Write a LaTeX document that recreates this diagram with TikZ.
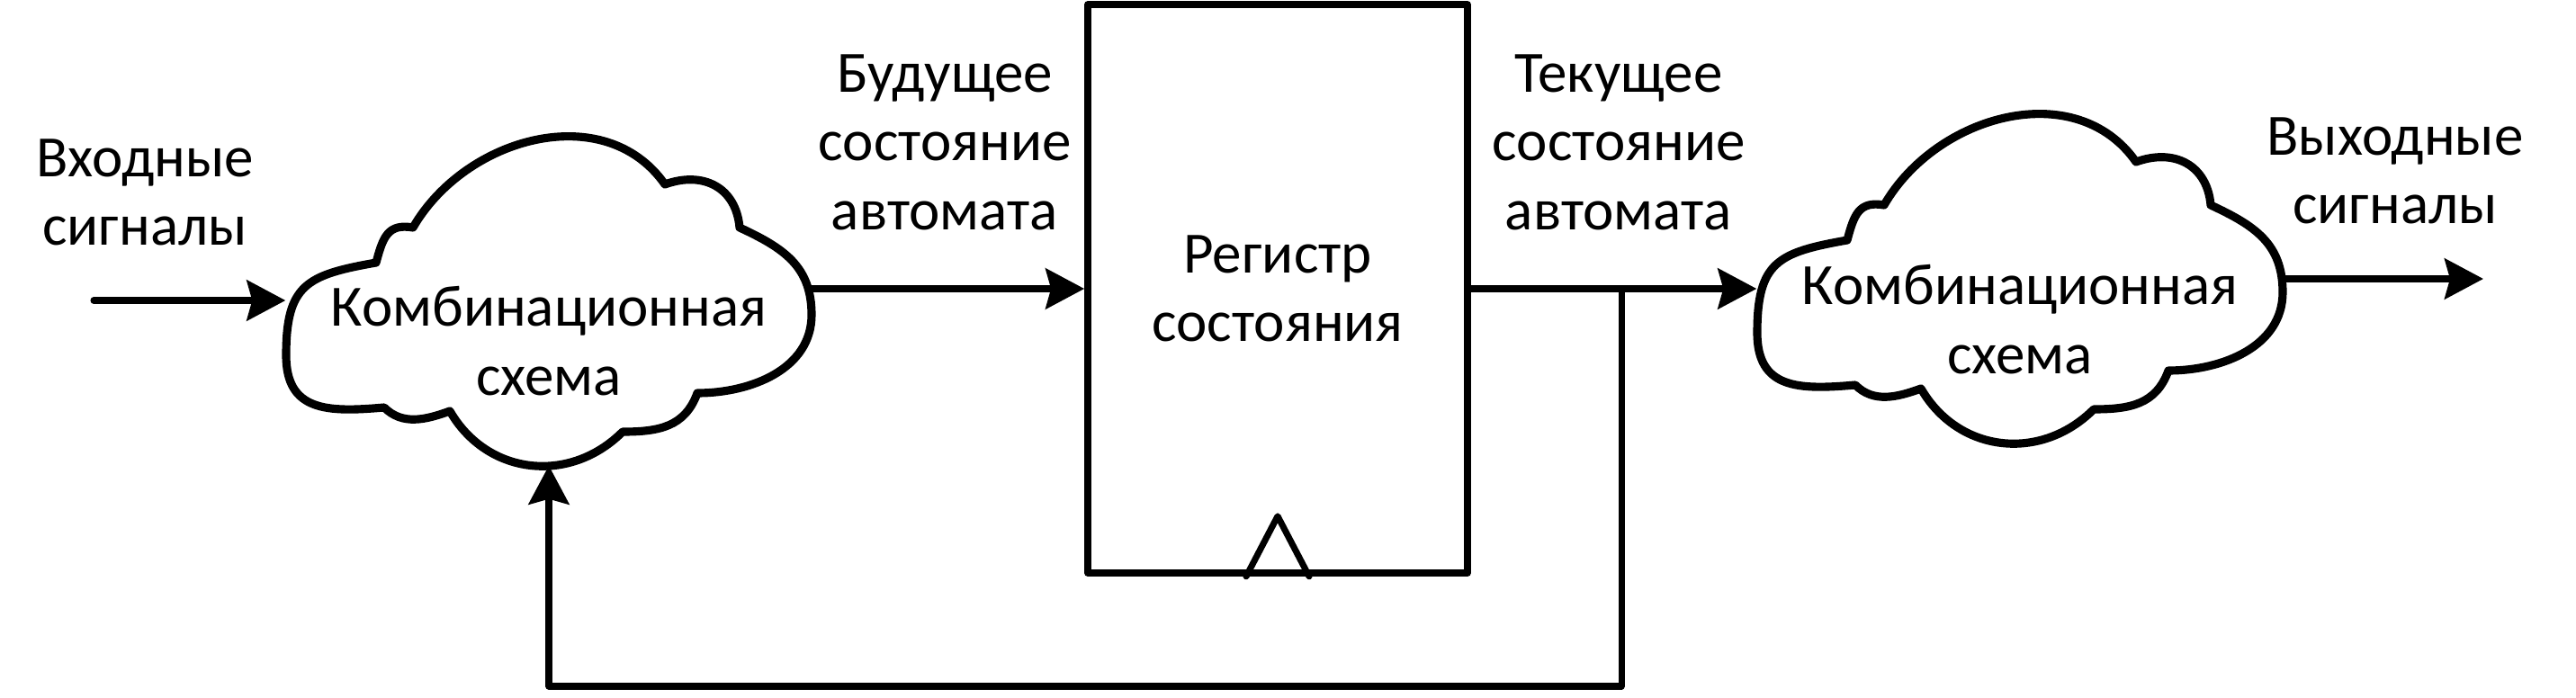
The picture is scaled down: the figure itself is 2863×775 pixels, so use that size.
\documentclass[tikz,border=0pt]{standalone}
\usepackage{fontspec}
\setmainfont{Carlito}
\usetikzlibrary{arrows.meta}

\tikzset{
 lbl/.style={align=center,inner sep=0pt,font=\fontsize{18.5}{21.8}\selectfont},
 wire/.style={line width=2pt,line cap=round,line join=round},
 tip/.style={-{Stealth[length=4.3mm,width=4.5mm,inset=0.6mm]}},
 regbox/.style={draw,line width=2.2pt,line join=round,minimum width=4.22cm,minimum height=6.32cm,lbl},
 cloudbox/.style={minimum width=5.84cm,minimum height=3.64cm,inner sep=0pt},
 cloudpic/.pic={
  \draw[line width=2.6pt,line join=round]
  (-183,-118) to[out=185,in=270,looseness=1.3] ++(-109,58)
  to[out=90,in=190,looseness=1.4] ++(100,103)
  to[out=75,in=170,looseness=1.3] ++(41,39)
  to[out=60,in=125,looseness=1.05] ++(280,48)
  to[out=20,in=95,looseness=1.2] ++(83,-48)
  to[out=-25,in=90,looseness=1.1] ++(80,-97)
  to[out=270,in=0] ++(-127,-87)
  to[out=250,in=0,looseness=1.1] ++(-83,-43)
  to[out=225,in=300,looseness=1.1] ++(-192,23)
  to[out=200,in=315] ++(-73,4)
  -- cycle;
 }
}

\begin{document}
\begin{tikzpicture}[x=0.1mm,y=0.1mm]
 \useasboundingbox (0,0) rectangle (2863,775);

 \node[cloudbox,label={[lbl,yshift=-4.4mm]center:Комбинационная\\схема}] (cl1) at (610,440) {};
 \pic at (cl1.center) {cloudpic};
 \node[cloudbox,label={[lbl,yshift=-4.5mm]center:Комбинационная\\схема}] (cl2) at (2245,465) {};
 \pic at (cl2.center) {cloudpic};
 \node[regbox] (reg) at (1420,454) {Регистр\\состояния};
 \draw[wire] (reg.south) ++(-35,0) -- ++(35,67) -- ++(35,-67);

 \node[lbl] (inlbl) at (161,561) {Входные\\сигналы};
 \node[lbl] (nextlbl) at (1050,617) {Будущее\\состояние\\автомата};
 \node[lbl] (curlbl) at (1799,617) {Текущее\\состояние\\автомата};
 \node[lbl] (outlbl) at (2662,585) {Выходные\\сигналы};

 \coordinate (inend) at (104,441);
 \coordinate (tap) at (1802,454);
 \coordinate (base) at (0,12);
 \coordinate (outend) at (2760,465);

 \draw[wire,tip] (inend) -- (inend -| cl1.west);
 \draw[wire,tip] (cl1.east |- reg.west) -- (reg.west);
 \draw[wire,tip] (reg.east) -- (reg.east -| cl2.west);
 \draw[wire,tip] (tap) |- (cl1.south |- base) -- (cl1.south);
 \draw[wire,tip] (cl2.east |- outend) -- (outend);
\end{tikzpicture}
\end{document}
